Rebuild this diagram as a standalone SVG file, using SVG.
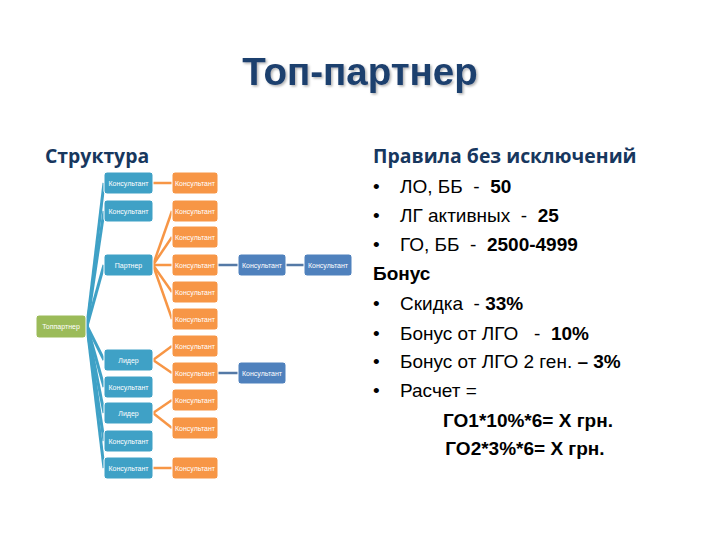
<svg xmlns="http://www.w3.org/2000/svg" width="720" height="540" viewBox="0 0 720 540">
<defs>
<filter id="sh" x="-5%" y="-20%" width="110%" height="140%">
<feDropShadow dx="1.5" dy="1.5" stdDeviation="1" flood-color="#000" flood-opacity="0.3"/>
</filter>
<style>
.title{font-family:"Liberation Sans",Arial,sans-serif;font-weight:bold;font-size:38.5px;fill:#1F3F6E}
.head{font-family:"Open Sans","Liberation Sans",sans-serif;font-weight:bold;font-size:19.4px;fill:#17375E}
.body{font-family:"Liberation Sans",Arial,sans-serif;font-size:19px;fill:#000}
.b{font-weight:bold}
.box{stroke:#fff;stroke-width:1}
.teal{fill:#3FA1C6}
.orange{fill:#F79646}
.dblue{fill:#4F81BD}
.green{fill:#9BBB59}
.lbl{font-family:"Liberation Sans",Arial,sans-serif;font-size:7px;fill:#fff;text-anchor:middle}
.lt{stroke:#3FA1C6;stroke-width:3;fill:none}
.lo{stroke:#F79646;stroke-width:2.5;fill:none}
.ld{stroke:#5479A6;stroke-width:2.5;fill:none}
</style>
</defs>
<rect width="720" height="540" fill="#fff"/>
<text class="title" x="360" y="85" text-anchor="middle" filter="url(#sh)">Топ-партнер</text>
<text class="head" x="45" y="163">Структура</text>
<text class="head" x="373" y="163">Правила без исключений</text>

<g id="connectors">
<line class="lt" x1="87" y1="326" x2="104" y2="183"/>
<line class="lt" x1="87" y1="326" x2="104" y2="211"/>
<line class="lt" x1="87" y1="326" x2="104" y2="265"/>
<line class="lt" x1="87" y1="326" x2="104" y2="360"/>
<line class="lt" x1="87" y1="326" x2="104" y2="387"/>
<line class="lt" x1="87" y1="326" x2="104" y2="413"/>
<line class="lt" x1="87" y1="326" x2="104" y2="441"/>
<line class="lt" x1="87" y1="326" x2="104" y2="468"/>
<line class="lo" x1="153" y1="183" x2="172" y2="183"/>
<line class="lo" x1="153" y1="265" x2="172" y2="211"/>
<line class="lo" x1="153" y1="265" x2="172" y2="237"/>
<line class="lo" x1="153" y1="265" x2="172" y2="265"/>
<line class="lo" x1="153" y1="265" x2="172" y2="292"/>
<line class="lo" x1="153" y1="265" x2="172" y2="319"/>
<line class="lo" x1="153" y1="360" x2="172" y2="346"/>
<line class="lo" x1="153" y1="360" x2="172" y2="373"/>
<line class="lo" x1="153" y1="413" x2="172" y2="400"/>
<line class="lo" x1="153" y1="413" x2="172" y2="428"/>
<line class="lo" x1="153" y1="468" x2="172" y2="468"/>
<line class="ld" x1="218" y1="265" x2="238" y2="265"/>
<line class="ld" x1="286" y1="265" x2="304" y2="265"/>
<line class="ld" x1="218" y1="373" x2="238" y2="373"/>
</g>

<g id="n-top"><rect class="box green" x="36" y="315" width="50" height="23" rx="3"/><text class="lbl" x="61" y="329">Топпартнер</text></g>

<g id="n-t1"><rect class="box teal" x="104" y="172" width="49" height="22" rx="3"/><text class="lbl" x="128.5" y="185.5">Консультант</text></g>
<g id="n-t2"><rect class="box teal" x="104" y="200" width="49" height="22" rx="3"/><text class="lbl" x="128.5" y="213.5">Консультант</text></g>
<g id="n-t3"><rect class="box teal" x="104" y="254" width="49" height="22" rx="3"/><text class="lbl" x="128.5" y="267.5">Партнер</text></g>
<g id="n-t4"><rect class="box teal" x="104" y="349" width="49" height="22" rx="3"/><text class="lbl" x="128.5" y="362.5">Лидер</text></g>
<g id="n-t5"><rect class="box teal" x="104" y="376" width="49" height="22" rx="3"/><text class="lbl" x="128.5" y="389.5">Консультант</text></g>
<g id="n-t6"><rect class="box teal" x="104" y="402" width="49" height="22" rx="3"/><text class="lbl" x="128.5" y="415.5">Лидер</text></g>
<g id="n-t7"><rect class="box teal" x="104" y="430" width="49" height="22" rx="3"/><text class="lbl" x="128.5" y="443.5">Консультант</text></g>
<g id="n-t8"><rect class="box teal" x="104" y="457" width="49" height="22" rx="3"/><text class="lbl" x="128.5" y="470.5">Консультант</text></g>

<g id="n-o1"><rect class="box orange" x="172" y="172" width="46" height="22" rx="3"/><text class="lbl" x="195" y="185.5">Консультант</text></g>
<g id="n-o2"><rect class="box orange" x="172" y="200" width="46" height="22" rx="3"/><text class="lbl" x="195" y="213.5">Консультант</text></g>
<g id="n-o3"><rect class="box orange" x="172" y="226" width="46" height="22" rx="3"/><text class="lbl" x="195" y="239.5">Консультант</text></g>
<g id="n-o4"><rect class="box orange" x="172" y="254" width="46" height="22" rx="3"/><text class="lbl" x="195" y="267.5">Консультант</text></g>
<g id="n-o5"><rect class="box orange" x="172" y="281" width="46" height="22" rx="3"/><text class="lbl" x="195" y="294.5">Консультант</text></g>
<g id="n-o6"><rect class="box orange" x="172" y="308" width="46" height="22" rx="3"/><text class="lbl" x="195" y="321.5">Консультант</text></g>
<g id="n-o7"><rect class="box orange" x="172" y="335" width="46" height="22" rx="3"/><text class="lbl" x="195" y="348.5">Консультант</text></g>
<g id="n-o8"><rect class="box orange" x="172" y="362" width="46" height="22" rx="3"/><text class="lbl" x="195" y="375.5">Консультант</text></g>
<g id="n-o9"><rect class="box orange" x="172" y="389" width="46" height="22" rx="3"/><text class="lbl" x="195" y="402.5">Консультант</text></g>
<g id="n-o10"><rect class="box orange" x="172" y="417" width="46" height="22" rx="3"/><text class="lbl" x="195" y="430.5">Консультант</text></g>
<g id="n-o11"><rect class="box orange" x="172" y="457" width="46" height="22" rx="3"/><text class="lbl" x="195" y="470.5">Консультант</text></g>

<g id="n-d1"><rect class="box dblue" x="238" y="254" width="48" height="22" rx="3"/><text class="lbl" x="262" y="267.5">Консультант</text></g>
<g id="n-d2"><rect class="box dblue" x="304" y="254" width="48" height="22" rx="3"/><text class="lbl" x="328" y="267.5">Консультант</text></g>
<g id="n-d3"><rect class="box dblue" x="238" y="362" width="48" height="22" rx="3"/><text class="lbl" x="262" y="375.5">Консультант</text></g>

<g id="rules" class="body">
<text x="373" y="193">•</text><text x="400" y="193">ЛО, ББ &#160;- &#160;<tspan class="b">50</tspan></text>
<text x="373" y="222">•</text><text x="400" y="222">ЛГ активных &#160;- &#160;<tspan class="b">25</tspan></text>
<text x="373" y="251">•</text><text x="400" y="251">ГО, ББ &#160;- &#160;<tspan class="b">2500-4999</tspan></text>
<text x="373" y="280" class="b">Бонус</text>
<text x="373" y="310">•</text><text x="400" y="310">Скидка &#160;- <tspan class="b">33%</tspan></text>
<text x="373" y="340">•</text><text x="400" y="340">Бонус от ЛГО &#160; - &#160;<tspan class="b">10%</tspan></text>
<text x="373" y="368">•</text><text x="400" y="368">Бонус от ЛГО 2 ген. <tspan class="b">– 3%</tspan></text>
<text x="373" y="397">•</text><text x="400" y="397">Расчет =</text>
<text x="528" y="427" class="b" text-anchor="middle">ГО1*10%*6= X грн.</text>
<text x="525" y="455" class="b" text-anchor="middle">ГО2*3%*6= X грн.</text>
</g>
</svg>
